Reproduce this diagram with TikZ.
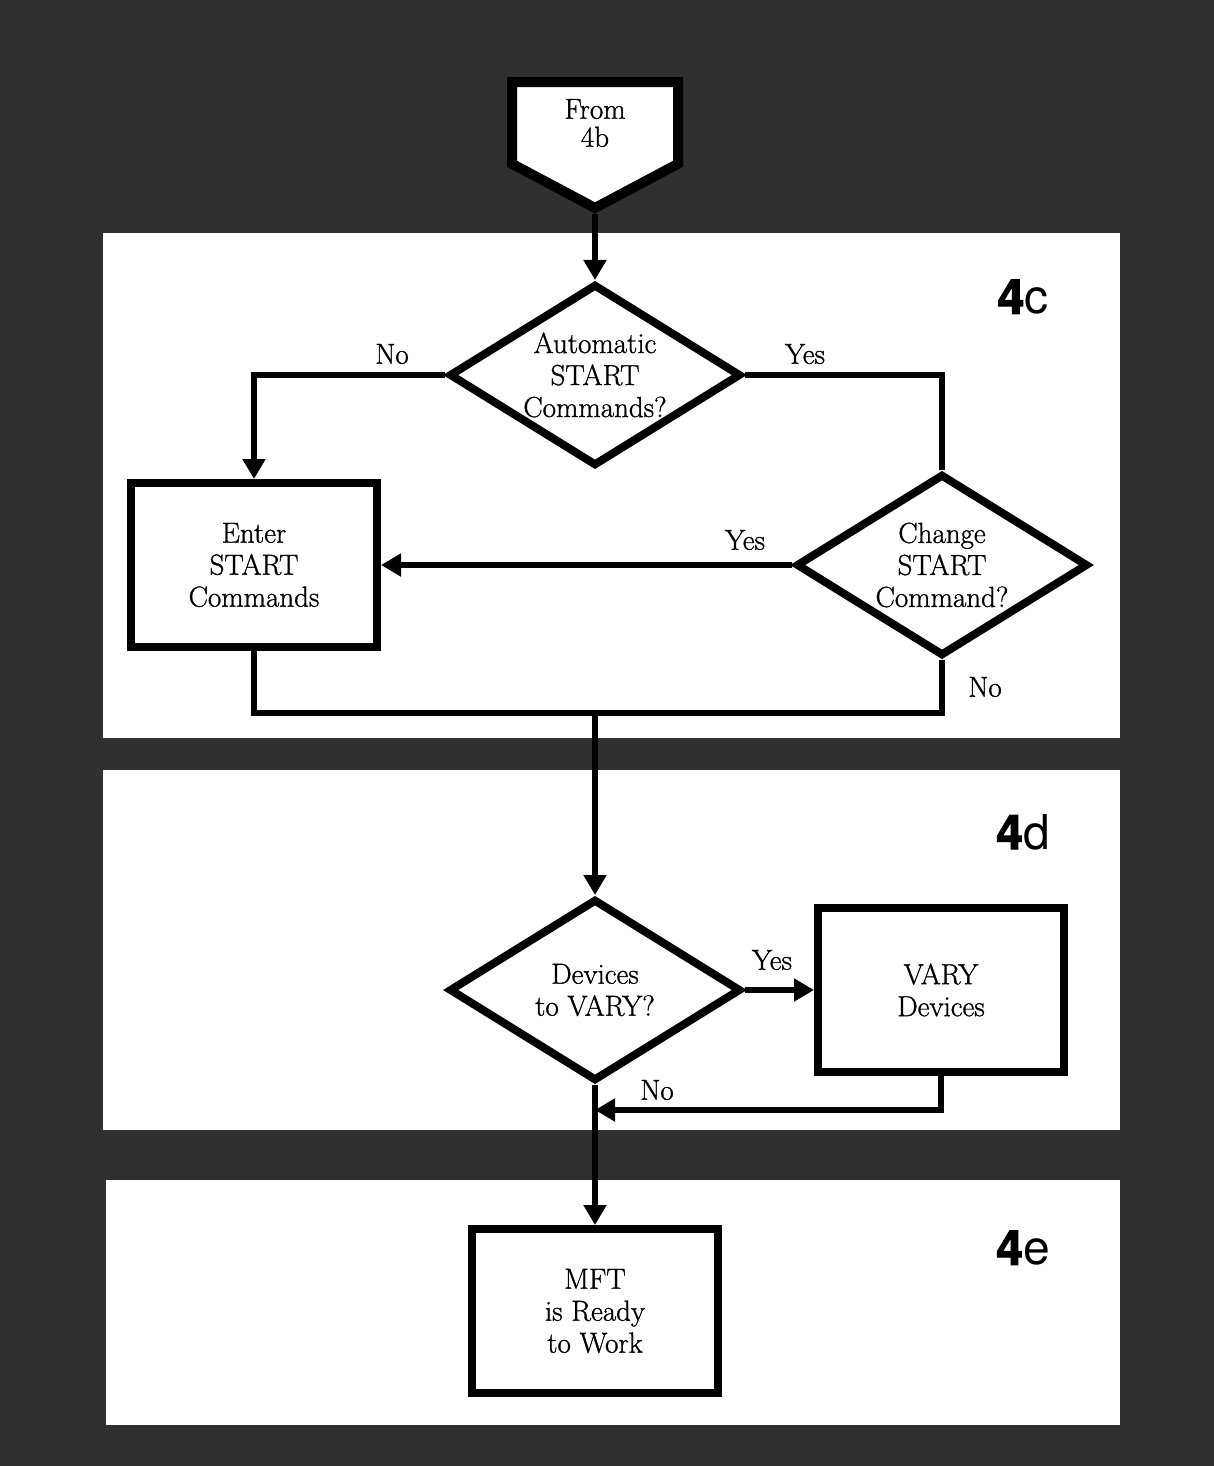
\documentclass[tikz,border=0pt]{standalone}
\usepackage{fontspec}
\usepackage{tikz}
\usetikzlibrary{arrows.meta,shapes.geometric,shapes.symbols}
\setmainfont{Latin Modern Roman}[RawFeature={embolden=1}]
\newfontfamily\tagfont[BoldFeatures={FakeBold=2.5}]{TeX Gyre Heros}
\definecolor{grain}{RGB}{48,48,48}

\begin{document}
\begin{tikzpicture}[x=0.5pt,y=-0.5pt,
      font=\fontsize{14.5}{16}\selectfont,
      panel/.style={fill=white,inner sep=0pt,anchor=north west},
      box/.style={draw=black,line width=4pt,fill=white,align=center,
                  minimum width=123pt,minimum height=82pt,inner sep=2pt},
      ask/.style={diamond,draw=black,line width=4pt,fill=white,align=center,
                  aspect=1.6,minimum width=146pt,minimum height=91pt,inner sep=0pt},
      ar/.style={-{Triangle[length=10pt,width=11pt]},line width=2.6pt},
      ln/.style={line width=2.6pt},
      lbl/.style={inner sep=1pt},
      tag/.style={font=\tagfont\fontsize{24}{24}\selectfont,inner sep=0pt}]
      % background and the three white panels
      \fill[grain] (0,0) rectangle (1214,1466);
      \node[panel,minimum width=508.5pt,minimum height=252.5pt] (panc) at (103,233) {};
      \node[panel,minimum width=508.5pt,minimum height=180pt] (pand) at (103,770) {};
      \node[panel,minimum width=507pt,minimum height=122.5pt] (pane) at (106,1180) {};
      \node[tag] (tagc) at (1023,297) {\textbf{4}c};
      \node[tag] (tagd) at (1023,832) {\textbf{4}d};
      \node[tag] (tage) at (1023,1248) {\textbf{4}e};
      % shapes
      \node[signal,signal to=south,signal pointer angle=124,draw=black,line width=5pt,
            fill=white,align=center,minimum width=83pt,minimum height=50pt,inner sep=2pt]
            (from) at (595,123) {From\\[-2pt]4b};
      \node[ask] (auto) at (595,375) {Automatic\\START\\Commands?};
      \node[box] (enter) at (254,565) {Enter\\START\\Commands};
      \node[ask] (chg) at (942,565) {Change\\START\\Command?};
      \node[ask] (devs) at (595,990) {Devices\\to VARY?};
      \node[box] (vary) at (941,990) {VARY\\Devices};
      \node[box] (mft) at (595,1311) {MFT\\is Ready\\to Work};
      \coordinate (merge) at (595,713);
      \coordinate (back) at (595,1110);
      % labels
      \node[lbl] (no1) at (392,354) {No};
      \node[lbl] (yes1) at (805,354) {Yes};
      \node[lbl] (yes2) at (745,540) {Yes};
      \node[lbl] (no2) at (985,687) {No};
      \node[lbl] (yes3) at (772,960) {Yes};
      \node[lbl] (no3) at (657,1090) {No};
      % connectors
      \draw[ar] (from.south) -- (auto.north);
      \draw[ar] (auto.west) -| (enter.north);
      \draw[ln] (auto.east) -| (chg.north);
      \draw[ar] (chg.west) -- (enter.east);
      \draw[ln] (enter.south) |- (merge) -| (chg.south);
      \draw[ar] (merge) -- (devs.north);
      \draw[ar] (devs.east) -- (vary.west);
      \draw[ar] (vary.south) |- (back);
      \draw[ar] (devs.south) -- (mft.north);
    \end{tikzpicture}
\end{document}
